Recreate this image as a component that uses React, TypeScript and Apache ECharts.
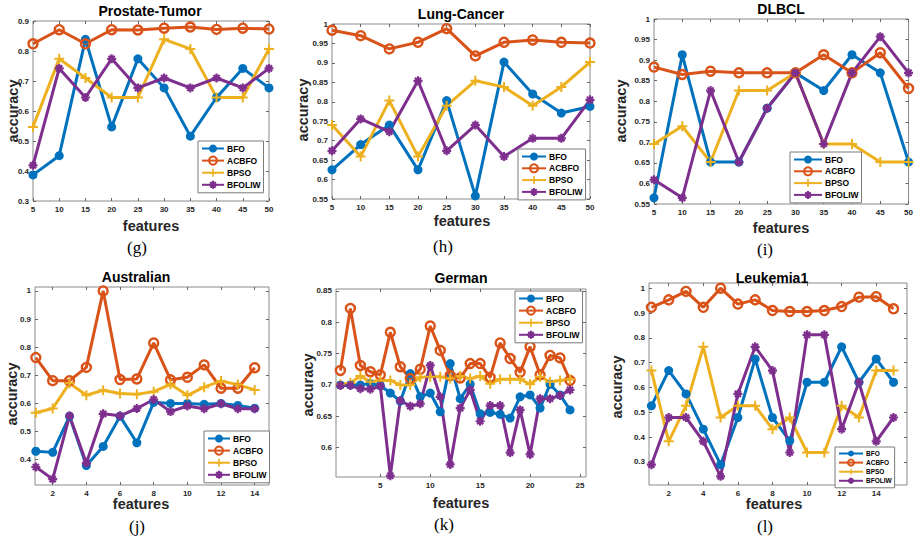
import React, { useEffect, useRef } from 'react';
import * as echarts from 'echarts';

// ---------------- data ----------------
const seriesNames = ['BFO', 'ACBFO', 'BPSO', 'BFOLIW'];

const featTop = [5, 10, 15, 20, 25, 30, 35, 40, 45, 50];
const featAustralian = [1, 2, 3, 4, 5, 6, 7, 8, 9, 10, 11, 12, 13, 14];
const featGerman = [1, 2, 3, 4, 5, 6, 7, 8, 9, 10, 11, 12, 13, 14, 15, 16, 17, 18, 19, 20, 21, 22, 23, 24];
const featLeukemia = [1, 2, 3, 4, 5, 6, 7, 8, 9, 10, 11, 12, 13, 14, 15];

const ptBFO = [0.387, 0.451, 0.839, 0.547, 0.774, 0.677, 0.516, 0.645, 0.742, 0.677];
const ptACBFO = [0.824, 0.871, 0.824, 0.871, 0.870, 0.876, 0.880, 0.872, 0.876, 0.873];
const ptBPSO = [0.547, 0.774, 0.710, 0.645, 0.645, 0.839, 0.807, 0.645, 0.645, 0.807];
const ptBFOLIW = [0.419, 0.742, 0.645, 0.774, 0.677, 0.710, 0.677, 0.710, 0.677, 0.742];

const lcBFO = [0.625, 0.690, 0.740, 0.625, 0.803, 0.558, 0.902, 0.820, 0.771, 0.788];
const lcACBFO = [0.984, 0.970, 0.936, 0.953, 0.988, 0.918, 0.953, 0.959, 0.953, 0.951];
const lcBPSO = [0.740, 0.659, 0.803, 0.659, 0.790, 0.854, 0.838, 0.790, 0.838, 0.902];
const lcBFOLIW = [0.674, 0.756, 0.723, 0.854, 0.674, 0.740, 0.659, 0.706, 0.706, 0.805];

const dlBFO = [0.565, 0.913, 0.652, 0.652, 0.783, 0.869, 0.826, 0.913, 0.869, 0.652];
const dlACBFO = [0.883, 0.865, 0.873, 0.869, 0.869, 0.869, 0.913, 0.869, 0.918, 0.831];
const dlBPSO = [0.696, 0.739, 0.652, 0.826, 0.826, 0.869, 0.696, 0.696, 0.652, 0.652];
const dlBFOLIW = [0.609, 0.565, 0.826, 0.652, 0.783, 0.869, 0.696, 0.869, 0.957, 0.869];

const auBFO = [0.430, 0.426, 0.554, 0.379, 0.447, 0.554, 0.460, 0.604, 0.600, 0.600, 0.597, 0.600, 0.593, 0.583];
const auACBFO = [0.763, 0.681, 0.681, 0.728, 1.000, 0.685, 0.687, 0.815, 0.684, 0.693, 0.737, 0.654, 0.654, 0.727];
const auBPSO = [0.567, 0.582, 0.672, 0.629, 0.647, 0.635, 0.633, 0.642, 0.668, 0.629, 0.658, 0.680, 0.667, 0.648];
const auBFOLIW = [0.374, 0.331, 0.556, 0.388, 0.563, 0.556, 0.582, 0.614, 0.571, 0.591, 0.581, 0.599, 0.581, 0.581];

const geBFO = [0.700, 0.700, 0.700, 0.702, 0.699, 0.687, 0.674, 0.718, 0.681, 0.687, 0.657, 0.734, 0.678, 0.701, 0.654, 0.656, 0.653, 0.647, 0.681, 0.684, 0.663, 0.701, 0.684, 0.660];
const geACBFO = [0.723, 0.822, 0.731, 0.721, 0.716, 0.784, 0.729, 0.710, 0.725, 0.794, 0.755, 0.715, 0.711, 0.734, 0.734, 0.712, 0.767, 0.742, 0.720, 0.761, 0.716, 0.747, 0.743, 0.707];
const geBPSO = [0.701, 0.703, 0.714, 0.705, 0.707, 0.707, 0.700, 0.700, 0.712, 0.713, 0.713, 0.710, 0.714, 0.710, 0.714, 0.702, 0.709, 0.709, 0.709, 0.701, 0.713, 0.705, 0.707, 0.709];
const geBFOLIW = [0.699, 0.699, 0.694, 0.693, 0.698, 0.555, 0.675, 0.666, 0.670, 0.731, 0.681, 0.573, 0.663, 0.692, 0.642, 0.667, 0.667, 0.592, 0.660, 0.589, 0.678, 0.678, 0.683, 0.692];

const leBFO = [0.526, 0.668, 0.574, 0.432, 0.289, 0.479, 0.715, 0.479, 0.385, 0.621, 0.621, 0.764, 0.621, 0.715, 0.621];
const leACBFO = [0.923, 0.953, 0.987, 0.923, 1.000, 0.936, 0.953, 0.910, 0.906, 0.906, 0.910, 0.926, 0.964, 0.966, 0.917];
const leBPSO = [0.668, 0.383, 0.526, 0.764, 0.479, 0.526, 0.526, 0.432, 0.479, 0.338, 0.338, 0.526, 0.479, 0.668, 0.668];
const leBFOLIW = [0.289, 0.479, 0.479, 0.383, 0.242, 0.574, 0.764, 0.668, 0.338, 0.812, 0.812, 0.432, 0.621, 0.383, 0.479];

// tick labels
const xTicksTop = [5, 10, 15, 20, 25, 30, 35, 40, 45, 50];
const yTicksProstate = [0.3, 0.4, 0.5, 0.6, 0.7, 0.8, 0.9];
const yTicksLung = [0.55, 0.6, 0.65, 0.7, 0.75, 0.8, 0.85, 0.9, 0.95, 1];
const yTicksDLBCL = [0.55, 0.6, 0.65, 0.7, 0.75, 0.8, 0.85, 0.9, 0.95, 1];
const xTicksAustralian = [2, 4, 6, 8, 10, 12, 14];
const yTicksAustralian = [0.4, 0.5, 0.6, 0.7, 0.8, 0.9, 1];
const xTicksGerman = [5, 10, 15, 20, 25];
const yTicksGerman = [0.6, 0.65, 0.7, 0.75, 0.8, 0.85];
const xTicksLeukemia = [2, 4, 6, 8, 10, 12, 14];
const yTicksLeukemia = [0.3, 0.4, 0.5, 0.6, 0.7, 0.8, 0.9, 1];

const titles = ['Prostate-Tumor', 'Lung-Cancer', 'DLBCL', 'Australian', 'German', 'Leukemia1'];
const captions = ['(g)', '(h)', '(i)', '(j)', '(k)', '(l)'];

// ---------------- styles ----------------
const COLORS = ['#0072BD', '#D95319', '#EDB120', '#7E2F8E'];
const SANS = '"Liberation Sans", Arial, sans-serif';
const SERIF = '"Liberation Serif", "Times New Roman", serif';
const PLUS = 'path://M4,0h2v4h4v2h-4v4h-2v-4h-4v-2h4z';
const STAR = 'path://M5,0L5,10M0,5L10,5M1.6,1.6L8.4,8.4M1.6,8.4L8.4,1.6';

const plots = [
  { feats: featTop, ys: [ptBFO, ptACBFO, ptBPSO, ptBFOLIW], xMin: 5, xMax: 50, yMin: 0.3, yMax: 0.9, xTicks: xTicksTop, yTicks: yTicksProstate,
    grid: { left: 33, top: 21, width: 236, height: 180 }, legend: { left: 198, top: 141, fs: 8.5, ih: 10, iw: 22, gap: 2.6 },
    title: [150, 11], ylab: [13, 111], xlab: [151, 226], cap: [137, 247] },
  { feats: featTop, ys: [lcBFO, lcACBFO, lcBPSO, lcBFOLIW], xMin: 5, xMax: 50, yMin: 0.55, yMax: 1, xTicks: xTicksTop, yTicks: yTicksLung,
    grid: { left: 332, top: 24, width: 258, height: 175 }, legend: { left: 518, top: 149, fs: 8.5, ih: 10, iw: 24, gap: 2.3 },
    title: [461, 14], ylab: [303, 110], xlab: [462, 221], cap: [443, 246] },
  { feats: featTop, ys: [dlBFO, dlACBFO, dlBPSO, dlBFOLIW], xMin: 5, xMax: 50, yMin: 0.55, yMax: 1, xTicks: xTicksTop, yTicks: yTicksDLBCL,
    grid: { left: 654, top: 19, width: 255, height: 185 }, legend: { left: 790, top: 152, fs: 8.5, ih: 10, iw: 28, gap: 2.3 },
    title: [781, 9], ylab: [621, 111], xlab: [781, 228], cap: [765, 249] },
  { feats: featAustralian, ys: [auBFO, auACBFO, auBPSO, auBFOLIW], xMin: 0.95, xMax: 14.85, yMin: 0.31, yMax: 1.014, xTicks: xTicksAustralian, yTicks: yTicksAustralian,
    grid: { left: 35, top: 287, width: 234, height: 198 }, legend: { left: 204, top: 431, fs: 8.5, ih: 10, iw: 22, gap: 2.6 },
    title: [136, 277], ylab: [12, 394], xlab: [141, 504], cap: [137, 526] },
  { feats: featGerman, ys: [geBFO, geACBFO, geBPSO, geBFOLIW], xMin: 0.56, xMax: 25.6, yMin: 0.553, yMax: 0.853, xTicks: xTicksGerman, yTicks: yTicksGerman,
    grid: { left: 336, top: 289, width: 250, height: 188 }, legend: { left: 515, top: 291, fs: 8.5, ih: 10, iw: 24, gap: 2.6 },
    title: [461, 278], ylab: [308, 385], xlab: [461, 503], cap: [444, 524] },
  { feats: featLeukemia, ys: [leBFO, leACBFO, leBPSO, leBFOLIW], xMin: 0.86, xMax: 15.78, yMin: 0.207, yMax: 1.021, xTicks: xTicksLeukemia, yTicks: yTicksLeukemia,
    grid: { left: 649, top: 283, width: 258, height: 202 }, legend: { left: 835, top: 447, fs: 6.5, ih: 7.5, iw: 24, gap: 1.6 },
    title: [772, 278], ylab: [617, 387], xlab: [774, 504], cap: [765, 526] },
];

const fmt = (v: number) => String(+v.toFixed(3));

function buildOption() {
  const grid: any[] = [];
  const xAxis: any[] = [];
  const yAxis: any[] = [];
  const series: any[] = [];
  const legend: any[] = [];
  const graphic: any[] = [];

  plots.forEach((p, i) => {
    grid.push({ ...p.grid, show: true, borderColor: '#8a8a8a', borderWidth: 1, backgroundColor: '#fff', containLabel: false });
    const tick = (vals: number[]) => ({ show: true, inside: true, length: 3, lineStyle: { color: '#666', width: 1 }, customValues: vals });
    const lbl = (vals: number[]) => ({ show: true, customValues: vals, fontSize: 8, fontWeight: 'bold', color: '#262626', fontFamily: SANS, margin: 4, formatter: fmt });
    xAxis.push({ gridIndex: i, type: 'value', min: p.xMin, max: p.xMax, position: 'bottom', axisLine: { show: false }, axisTick: tick(p.xTicks), axisLabel: lbl(p.xTicks), splitLine: { show: false } });
    xAxis.push({ gridIndex: i, type: 'value', min: p.xMin, max: p.xMax, position: 'top', axisLine: { show: false }, axisTick: tick(p.xTicks), axisLabel: { show: false }, splitLine: { show: false } });
    yAxis.push({ gridIndex: i, type: 'value', min: p.yMin, max: p.yMax, position: 'left', axisLine: { show: false }, axisTick: tick(p.yTicks), axisLabel: lbl(p.yTicks), splitLine: { show: false } });
    yAxis.push({ gridIndex: i, type: 'value', min: p.yMin, max: p.yMax, position: 'right', axisLine: { show: false }, axisTick: tick(p.yTicks), axisLabel: { show: false }, splitLine: { show: false } });

    p.ys.forEach((vals, s) => {
      const color = COLORS[s];
      const base: any = {
        type: 'line',
        name: seriesNames[s],
        xAxisIndex: i * 2,
        yAxisIndex: i * 2,
        data: vals.map((v, k) => [p.feats[k], v]),
        clip: false,
        lineStyle: { color, width: 3 },
        emphasis: { disabled: true },
      };
      if (s === 0) {
        base.symbol = 'circle'; base.symbolSize = 9; base.itemStyle = { color };
      } else if (s === 1) {
        base.symbol = 'circle'; base.symbolSize = 9;
        base.itemStyle = { color: 'rgba(255,255,255,0)', borderColor: color, borderWidth: 2.4 };
      } else if (s === 2) {
        base.symbol = PLUS; base.symbolSize = 10; base.itemStyle = { color };
      } else {
        base.symbol = STAR; base.symbolSize = 9; base.itemStyle = { color, borderColor: color, borderWidth: 2.2 };
      }
      series.push(base);
    });

    const L = p.legend;
    legend.push({
      left: L.left, top: L.top, orient: 'vertical', data: seriesNames,
      itemWidth: L.iw, itemHeight: L.ih, itemGap: L.gap, padding: [3, 3, 3, 3],
      borderColor: '#7a7a7a', borderWidth: 1, borderRadius: 0, backgroundColor: '#fff',
      selectedMode: false,
      textStyle: { fontSize: L.fs, fontWeight: 'bold', fontFamily: SANS, color: '#000', padding: [0, 0, 0, -2] },
    });

    graphic.push({ type: 'text', x: p.title[0], y: p.title[1], style: { text: titles[i], font: `bold 14px ${SANS}`, fill: '#000', textAlign: 'center', textVerticalAlign: 'middle' } });
    graphic.push({ type: 'text', x: p.xlab[0], y: p.xlab[1], style: { text: 'features', font: `bold 14.5px ${SANS}`, fill: '#262626', textAlign: 'center', textVerticalAlign: 'middle' } });
    graphic.push({ type: 'text', x: p.ylab[0], y: p.ylab[1], rotation: Math.PI / 2, style: { text: 'accuracy', font: `bold 14.5px ${SANS}`, fill: '#262626', textAlign: 'center', textVerticalAlign: 'middle' } });
    graphic.push({ type: 'text', x: p.cap[0], y: p.cap[1], style: { text: captions[i], font: `17px ${SERIF}`, fill: '#000', textAlign: 'center', textVerticalAlign: 'middle' } });
  });

  return { animation: false, backgroundColor: '#fff', grid, xAxis, yAxis, series, legend, graphic };
}

export default function App() {
  const ref = useRef<HTMLDivElement>(null);
  useEffect(() => {
    if (!ref.current) return;
    const chart = echarts.init(ref.current, undefined, { renderer: 'svg' });
    chart.setOption(buildOption() as any);
    return () => chart.dispose();
  }, []);
  return <div ref={ref} style={{ position: 'fixed', left: 0, top: 0, width: 916, height: 540, background: '#fff' }} />;
}
